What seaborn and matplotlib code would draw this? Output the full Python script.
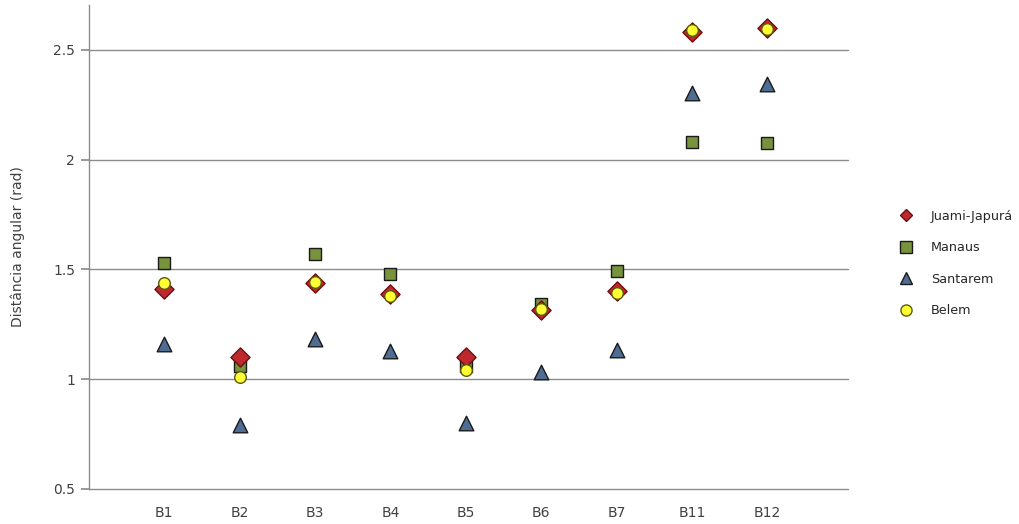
import matplotlib
matplotlib.use("Agg")
import matplotlib.pyplot as plt
import seaborn as sns
import pandas as pd
from matplotlib.lines import Line2D

categories = ["B1", "B2", "B3", "B4", "B5", "B6", "B7", "B11", "B12"]
juami = [1.41, 1.10, 1.44, 1.39, 1.10, 1.315, 1.40, 2.58, 2.60]
manaus = [1.53, 1.06, 1.57, 1.48, 1.06, 1.345, 1.495, 2.08, 2.075]
santarem = [1.16, 0.79, 1.185, 1.13, 0.80, 1.035, 1.135, 2.305, 2.345]
belem = [1.44, 1.01, 1.445, 1.38, 1.04, 1.32, 1.395, 2.59, 2.595]
series_names = ["Juami-Japurá", "Manaus", "Santarem", "Belem"]
yticks = [0.5, 1, 1.5, 2, 2.5]
ytick_labels = ["0.5", "1", "1.5", "2", "2.5"]

sns.set_theme(style="white")
plt.rcParams["font.family"] = ["DejaVu Sans"]

fig = plt.figure(figsize=(10.2, 5.24), dpi=100)
ax = fig.add_axes([89 / 1020, 35 / 524, (848 - 89) / 1020, (489 - 5) / 524])

pos = list(range(1, len(categories) + 1))
styles = {
    "Manaus": dict(marker="s", s=85, color="#77933C", edgecolor="#1a1a1a", zorder=3),
    "Juami-Japurá": dict(marker="D", s=95, color="#C0282D", edgecolor="#6a1010", zorder=4),
    "Santarem": dict(marker="^", s=110, color="#4F6D93", edgecolor="#1a1a1a", zorder=5),
    "Belem": dict(marker="o", s=70, color="#FFFF33", edgecolor="#5a5a10", zorder=6),
}
data = {"Juami-Japurá": juami, "Manaus": manaus, "Santarem": santarem, "Belem": belem}

for name in ["Manaus", "Juami-Japurá", "Santarem", "Belem"]:
    st = styles[name]
    df = pd.DataFrame({"x": pos, "y": data[name]})
    sns.scatterplot(data=df, x="x", y="y", ax=ax, marker=st["marker"], s=st["s"],
                    color=st["color"], edgecolor=st["edgecolor"], linewidth=1.0,
                    zorder=st["zorder"], legend=False)

ax.set_xlim(0, 10.07)
ax.set_ylim(0.5, 2.705)
ax.set_yticks(yticks)
ax.set_yticklabels(ytick_labels)
ax.set_xticks(pos)
ax.set_xticklabels(categories)
for y in yticks:
    ax.axhline(y, color="#8c8c8c", lw=1.0, zorder=1, clip_on=False)
for s in ["top", "right", "bottom"]:
    ax.spines[s].set_visible(False)
ax.spines["left"].set_color("#8c8c8c")
ax.spines["left"].set_linewidth(1.0)
ax.tick_params(axis="y", which="both", left=True, length=6, color="#8c8c8c",
               labelsize=10, labelcolor="#404040", pad=4)
ax.tick_params(axis="x", bottom=False, labelsize=10, labelcolor="#404040", pad=6)
ax.set_xlabel("")
ax.set_ylabel("Distância angular (rad)", fontsize=10, color="#404040", labelpad=20)

handles = []
for name in series_names:
    st = styles[name]
    handles.append(Line2D([], [], linestyle="none", marker=st["marker"],
                          markersize={"D": 6, "s": 8, "^": 8, "o": 8}[st["marker"]],
                          markerfacecolor=st["color"], markeredgecolor=st["edgecolor"]))
fig.legend(handles, series_names, loc="upper left", bbox_to_anchor=(0.864, 0.622),
           frameon=False, fontsize=9.2, labelspacing=1.45, handletextpad=1.0,
           labelcolor="#262626")

fig.savefig("out.png", dpi=100)
